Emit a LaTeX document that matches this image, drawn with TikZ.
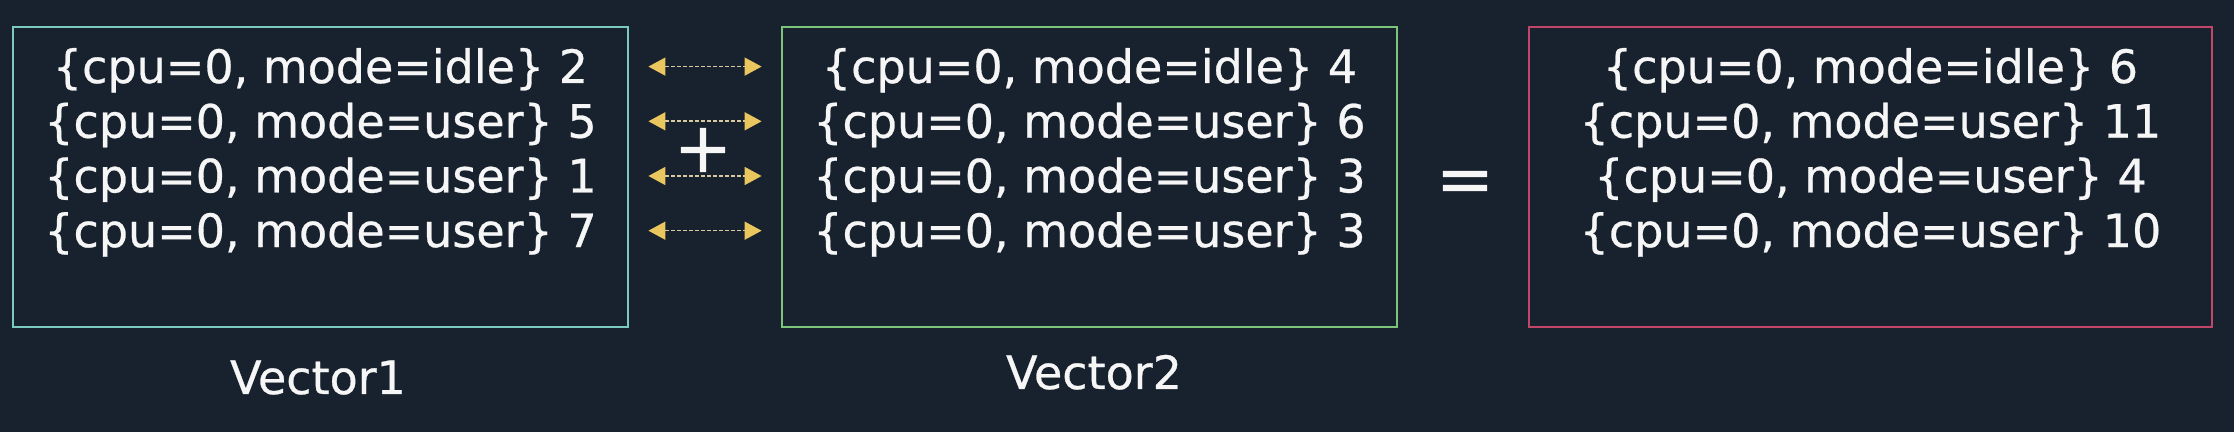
\documentclass[tikz,border=0pt]{standalone}
\usepackage{fontspec}
\setmainfont{DejaVu Sans}[FakeBold=0.6]
\usepackage{tikz}
\usetikzlibrary{arrows.meta,positioning,calc}

\definecolor{bgnavy}{HTML}{18222E}
\definecolor{fgwhite}{HTML}{F6F6F6}
\definecolor{edgeteal}{HTML}{7CC9C2}
\definecolor{edgegreen}{HTML}{7CC47A}
\definecolor{edgered}{HTML}{C2466A}
\definecolor{tipyellow}{HTML}{EAC65E}
\definecolor{dashtan}{HTML}{D9C9A3}

\tikzset{
  vecbox/.style={draw, line width=1.4pt, minimum height=150pt, inner sep=0pt},
  rowtext/.style={text=fgwhite, inner sep=0pt, anchor=base, font=\fontsize{23}{27}\selectfont},
  vlabel/.style={text=fgwhite, inner sep=0pt, anchor=base, font=\fontsize{23}{27}\selectfont},
  optext/.style={text=fgwhite, inner sep=0pt, font=\fontsize{35}{40}\selectfont},
  pairarrow/.style={draw=dashtan, line width=0.8pt, dash pattern=on 1.8pt off 1.2pt,
    {Triangle[color=tipyellow, length=8.5pt, width=9pt]}-{Triangle[color=tipyellow, length=8.5pt, width=9pt]},
    shorten <=9.5pt, shorten >=9.5pt}
}

\begin{document}
\begin{tikzpicture}[x=0.5pt,y=-0.5pt]
\useasboundingbox (0,0) rectangle (2234,432);
\fill[bgnavy] (0,0) rectangle (2234,432);
% the three vectors
\node[vecbox, draw=edgeteal, minimum width=307.5pt] (v1) at (320.5,177) {};
\node[vecbox, draw=edgegreen, minimum width=307.5pt] (v2) at (1089.5,177) {};
\node[vecbox, draw=edgered, minimum width=341.5pt] (v3) at (1870.5,177) {};
\foreach \m/\n [count=\i] in {idle/2,user/5,user/1,user/7}
  \node[rowtext] (a\i) at (320.5,{83+54.7*(\i-1)}) {\{cpu=0, mode=\m\} \n};
\foreach \m/\n [count=\i] in {idle/4,user/6,user/3,user/3}
  \node[rowtext] (b\i) at (1089.5,{83+54.7*(\i-1)}) {\{cpu=0, mode=\m\} \n};
\foreach \m/\n [count=\i] in {idle/6,user/11,user/4,user/10}
  \node[rowtext] (c\i) at (1870.5,{83+54.7*(\i-1)}) {\{cpu=0, mode=\m\} \n};
% matching rows
\foreach \i in {1,...,4} {
  \coordinate (m\i) at ([yshift=8.2pt]a\i.base);
  \draw[pairarrow] (m\i -| v1.east) -- (m\i -| v2.west);
}
\node[optext] (plus) at (703,150) {+};
\node[optext] (eq) at (1465,187) {=};
\node[vlabel] (l1) at (318,394) {Vector1};
\node[vlabel] (l2) at (1094,389) {Vector2};
\end{tikzpicture}
\end{document}
